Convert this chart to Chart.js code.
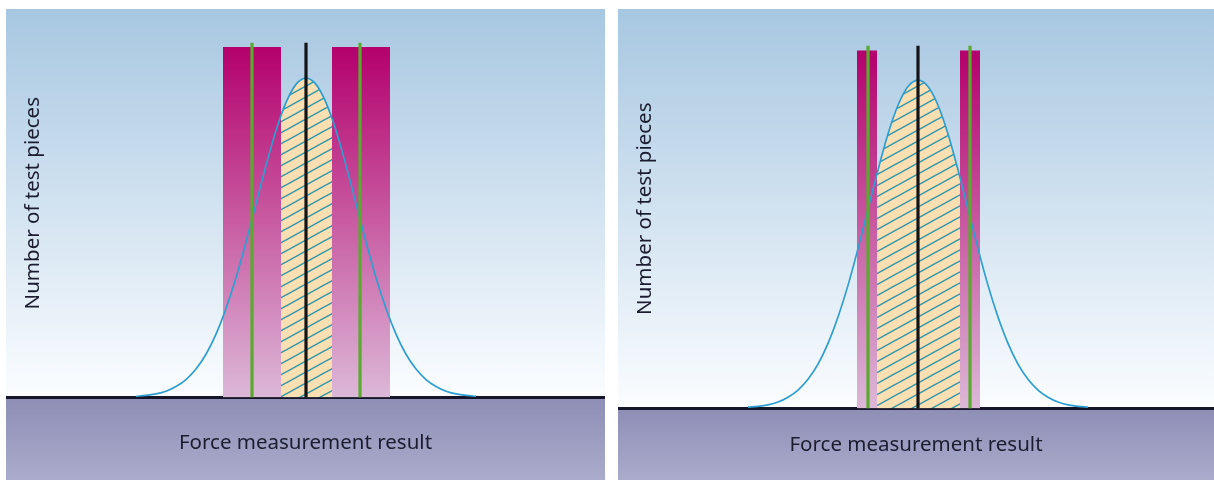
<!DOCTYPE html>
<html>
<head>
<meta charset="utf-8">
<script src="https://cdn.jsdelivr.net/npm/chart.js"></script>
<style>
  body { margin: 0; background: #fff; }
  .panel { position: absolute; top: 9px; height: 471px; }
  #wrapWide { left: 6px; width: 599px; }
  #wrapNarrow { left: 618px; width: 596px; }
</style>
</head>
<body>
<div class="panel" id="wrapWide"><canvas id="chartWide"></canvas></div>
<div class="panel" id="wrapNarrow"><canvas id="chartNarrow"></canvas></div>
<script>
// distribution of the force measurement results (same process in both panels)
const forceValues = [83, 84, 85, 86, 87, 88, 89, 90, 91, 92, 93, 94, 95, 96, 97, 98, 99, 100,
  101, 102, 103, 104, 105, 106, 107, 108, 109, 110, 111, 112, 113, 114, 115, 116, 117];
const pieceCounts = [0.3, 0.5, 0.9, 1.6, 2.8, 4.6, 7.3, 11.1, 16.3, 22.9, 30.8, 40.0, 49.9, 59.7, 68.7, 75.9, 80.6, 82.2,
  80.6, 75.9, 68.7, 59.7, 49.9, 40.0, 30.8, 22.9, 16.3, 11.1, 7.3, 4.6, 2.8, 1.6, 0.9, 0.5, 0.3];
const nominalForce = 100;

// left panel: wide uncertainty bands
const wideLimits = [94.6, 105.4];
const wideBandLow = [91.7, 97.5];
const wideBandHigh = [102.6, 108.4];
const wideBandTop = 90.2;
const wideLineTop = 91.3;
const wideHatchForce = [97.5, 98, 99, 100, 101, 102, 102.6];
const wideHatchCount = [72.5, 75.9, 80.6, 82.2, 80.6, 75.9, 71.8];

// right panel: narrow uncertainty bands
const narrowLimits = [95.0, 105.2];
const narrowBandLow = [93.9, 95.9];
const narrowBandHigh = [104.2, 106.2];
const narrowBandTop = 89.6;
const narrowLineTop = 90.8;
const narrowHatchForce = [95.9, 96, 97, 98, 99, 100, 101, 102, 103, 104, 104.2];
const narrowHatchCount = [58.7, 59.7, 68.7, 75.9, 80.6, 82.2, 80.6, 75.9, 68.7, 59.7, 57.8];

const textFont = { family: "'Noto Sans', sans-serif", size: 20.5 };
const textColor = '#1c1c30';

const pts = (xs, ys) => xs.map((x, i) => ({ x, y: ys[i] }));

// diagonal hatch for the zone between the bands
function makeHatch() {
  const c = document.createElement('canvas');
  c.width = 20; c.height = 11;
  const g = c.getContext('2d');
  g.fillStyle = '#fadfb2';
  g.fillRect(0, 0, 20, 11);
  g.strokeStyle = '#3196aa';
  g.lineWidth = 1.5;
  for (const k of [-1, 0, 1]) {
    g.beginPath();
    g.moveTo(0, 11 + k * 11);
    g.lineTo(20, k * 11);
    g.stroke();
  }
  return g.createPattern(c, 'repeat');
}
const hatch = makeHatch();

function bandFill(top) {
  return (context) => {
    const { ctx, chartArea, scales } = context.chart;
    if (!chartArea) return null;
    const g = ctx.createLinearGradient(0, scales.y.getPixelForValue(top), 0, scales.y.getPixelForValue(0));
    g.addColorStop(0, '#b4006c');
    g.addColorStop(1, '#dcb8d8');
    return g;
  };
}

const panelBackground = {
  id: 'panelBackground',
  beforeDraw(chart) {
    const { ctx, chartArea, width, height } = chart;
    const base = chartArea.bottom;
    ctx.save();
    let g = ctx.createLinearGradient(0, 0, 0, base);
    g.addColorStop(0, '#a7c7e1');
    g.addColorStop(1, '#fbfdff');
    ctx.fillStyle = g;
    ctx.fillRect(0, 0, width, base);
    g = ctx.createLinearGradient(0, base, 0, height);
    g.addColorStop(0, '#8e8eb6');
    g.addColorStop(1, '#ababcc');
    ctx.fillStyle = g;
    ctx.fillRect(0, base, width, height - base);
    ctx.restore();
  }
};

function renderPanel(canvasId, p) {
  const vline = (x, top, color, order) => ({
    data: [{ x, y: 0 }, { x, y: top }],
    borderColor: color, borderWidth: 3.2, borderCapStyle: 'butt',
    pointRadius: 0, fill: false, order
  });
  const band = (edges) => ({
    data: [{ x: edges[0], y: p.bandTop }, { x: edges[1], y: p.bandTop }],
    borderWidth: 0, borderColor: 'transparent', pointRadius: 0,
    fill: 'origin', backgroundColor: bandFill(p.bandTop), order: 4
  });

  new Chart(document.getElementById(canvasId), {
    type: 'line',
    data: {
      datasets: [
        {
          data: pts(p.hatchX, p.hatchY), borderWidth: 0, borderColor: 'transparent',
          pointRadius: 0, fill: 'origin', backgroundColor: hatch,
          cubicInterpolationMode: 'monotone', order: 5
        },
        band(p.bandLow),
        band(p.bandHigh),
        {
          data: pts(forceValues, pieceCounts), borderColor: '#2e9ed0', borderWidth: 1.7,
          pointRadius: 0, fill: false, cubicInterpolationMode: 'monotone', order: 3
        },
        vline(p.limits[0], p.lineTop, '#5aaa2e', 2),
        vline(p.limits[1], p.lineTop, '#5aaa2e', 2),
        vline(nominalForce, p.lineTop, '#141418', 1)
      ]
    },
    options: {
      responsive: true,
      maintainAspectRatio: false,
      animation: false,
      events: [],
      plugins: { legend: { display: false }, tooltip: { enabled: false } },
      scales: {
        x: {
          type: 'linear', min: p.xMin, max: p.xMax, z: 1,
          grid: { display: false, drawTicks: false },
          ticks: { display: false },
          border: { display: true, color: '#16162a', width: 3 },
          title: {
            display: true, text: 'Force measurement result', color: textColor,
            font: textFont, padding: p.xTitlePad
          }
        },
        y: {
          min: 0, max: 100,
          grid: { display: false, drawTicks: false },
          ticks: { display: false },
          border: { display: false },
          title: {
            display: true, text: 'Number of test pieces', color: textColor,
            font: textFont, padding: { top: 15, bottom: 0 }
          },
          afterFit(scale) { scale.width = 0; }
        }
      }
    },
    plugins: [panelBackground]
  });
}

renderPanel('chartWide', {
  limits: wideLimits, bandLow: wideBandLow, bandHigh: wideBandHigh,
  bandTop: wideBandTop, lineTop: wideLineTop,
  hatchX: wideHatchForce, hatchY: wideHatchCount,
  xMin: 70, xMax: 129.9, xTitlePad: { top: 33, bottom: 25 }
});
renderPanel('chartNarrow', {
  limits: narrowLimits, bandLow: narrowBandLow, bandHigh: narrowBandHigh,
  bandTop: narrowBandTop, lineTop: narrowLineTop,
  hatchX: narrowHatchForce, hatchY: narrowHatchCount,
  xMin: 70, xMax: 129.6, xTitlePad: { top: 24, bottom: 23 }
});
</script>
</body>
</html>
